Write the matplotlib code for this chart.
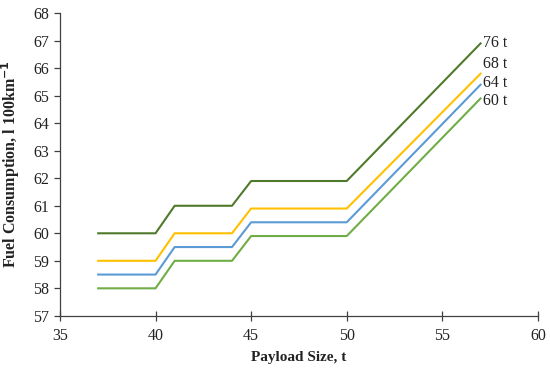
import matplotlib.pyplot as plt

# Datos
carga = [37, 40, 41, 44, 45, 50, 57]
consumo_76 = [60.0, 60.0, 61.0, 61.0, 61.9, 61.9, 66.9]
consumo_68 = [59.0, 59.0, 60.0, 60.0, 60.9, 60.9, 65.8]
consumo_64 = [58.5, 58.5, 59.5, 59.5, 60.4, 60.4, 65.4]
consumo_60 = [58.0, 58.0, 59.0, 59.0, 59.9, 59.9, 64.9]
etiquetas = ["76 t", "68 t", "64 t", "60 t"]

plt.rcParams['font.family'] = ['Liberation Serif', 'DejaVu Serif']

fig = plt.figure(figsize=(5.5, 3.76), dpi=100)
ax = fig.add_axes([0.109, 0.160, 0.869, 0.805])

series = [consumo_76, consumo_68, consumo_64, consumo_60]
colores = ["#4f7a2c", "#ffc000", "#5b9bd5", "#70ad47"]
desplaz = [0, 7, 1, -2]  # desplazamiento vertical de las etiquetas (puntos)
for valores, color, texto, dy in zip(series, colores, etiquetas, desplaz):
    ax.plot(carga, valores, color=color, linewidth=1.5)
    ax.annotate(texto, (carga[-1], valores[-1]), xytext=(1.5, dy),
                textcoords="offset points", va="center", ha="left",
                fontsize=11.5, color="#222222")

ax.set_xlim(35, 60)
ax.set_ylim(57, 68)
ax.set_xticks(range(35, 61, 5))
ax.set_yticks(range(57, 69))

ax.spines['top'].set_visible(False)
ax.spines['right'].set_visible(False)
for s in ['left', 'bottom']:
    ax.spines[s].set_color("#404040")
    ax.spines[s].set_linewidth(0.9)
ax.tick_params(axis='x', direction='inout', length=7, width=0.9, color="#404040",
               labelsize=11.5, labelcolor="#222222", pad=5)
ax.tick_params(axis='y', direction='out', length=4, width=0.9, color="#404040",
               labelsize=11.5, labelcolor="#222222")

ax.set_xlabel("Payload Size, t", fontsize=11, fontweight="bold", labelpad=5, color="#222222")
ax.set_ylabel(r"Fuel Consumption, l 100km$^{\mathbf{-1}}$", fontsize=11.5,
              fontweight="bold", labelpad=8, color="#222222")

fig.savefig("out.png", dpi=100)
